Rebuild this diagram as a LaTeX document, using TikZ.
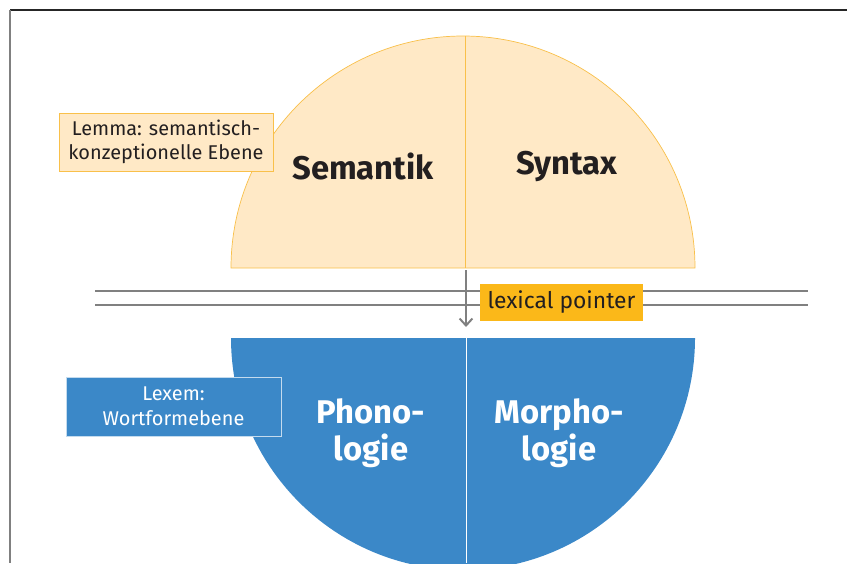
\documentclass[tikz,border=0pt]{standalone}
\usepackage{fontspec}
\setmainfont{Fira Sans}
\usetikzlibrary{arrows.meta}
\definecolor{peach}{HTML}{FFE9C6}
\definecolor{peachline}{HTML}{F9C04A}
\definecolor{lexblue}{HTML}{3B88C8}
\definecolor{pointer}{HTML}{FBB819}
\definecolor{textdark}{HTML}{231F20}

\begin{document}
\begin{tikzpicture}[x=0.03cm,y=-0.03cm,
  level/.style={font=\bfseries\fontsize{28}{32}\selectfont, align=center},
  tag/.style={align=center, inner sep=0pt, font=\fontsize{17}{21}\selectfont}]
  \useasboundingbox (0,0) rectangle (847,563);
  \draw[black!85, line width=0.9pt] (10,10) -- (847,10);
  \draw[black!50, line width=1.2pt] (10,10) -- (10,563);

  % upper half: lemma
  \filldraw[fill=peach, draw=peachline, line width=0.6pt]
    (231,268) arc[start angle=180, end angle=360, radius=232] -- cycle;
  \draw[peachline, line width=0.6pt] (465,36) -- (465,268);
  % lower half: lexem
  \fill[lexblue] (231,338) arc[start angle=180, end angle=0, radius=232] -- cycle;
  \draw[white, line width=0.8pt] (466,338) -- (466,563);

  \node[level, text=textdark] (S-1) at (363,166) {Semantik};
  \node[level, text=textdark] (S-2) at (567,166) {Syntax};
  \node[level, text=white] (L-1) at (371,433) {Phono-\\logie};
  \node[level, text=white] (L-2) at (559,433) {Morpho-\\logie};

  \draw[black!50, line width=1.7pt] (95,291) -- (808,291);
  \draw[black!50, line width=1.7pt] (95,305) -- (808,305);
  \coordinate (P-a) at (466,270);
  \coordinate (P-b) at (466,327);
  \draw[black!50, line width=1.7pt, -{Straight Barb[length=6pt, width=11pt]}] (P-a) -- (P-b);

  \node[tag, fill=pointer, text=textdark, minimum width=4.89cm, minimum height=1.11cm,
    font=\fontsize{19.5}{23}\selectfont] (ptr) at (561.5,302.5) {lexical pointer};
  \node[tag, fill=peach, draw=peachline, text=textdark, minimum width=6.42cm,
    minimum height=1.74cm] (lemma) at (166,142) {Lemma: semantisch-\\konzeptionelle Ebene};
  \node[tag, fill=lexblue, draw=white!70!lexblue, text=white, minimum width=6.45cm,
    minimum height=1.77cm] (lexem) at (173.5,406.5) {Lexem:\\Wortformebene};
\end{tikzpicture}
\end{document}
